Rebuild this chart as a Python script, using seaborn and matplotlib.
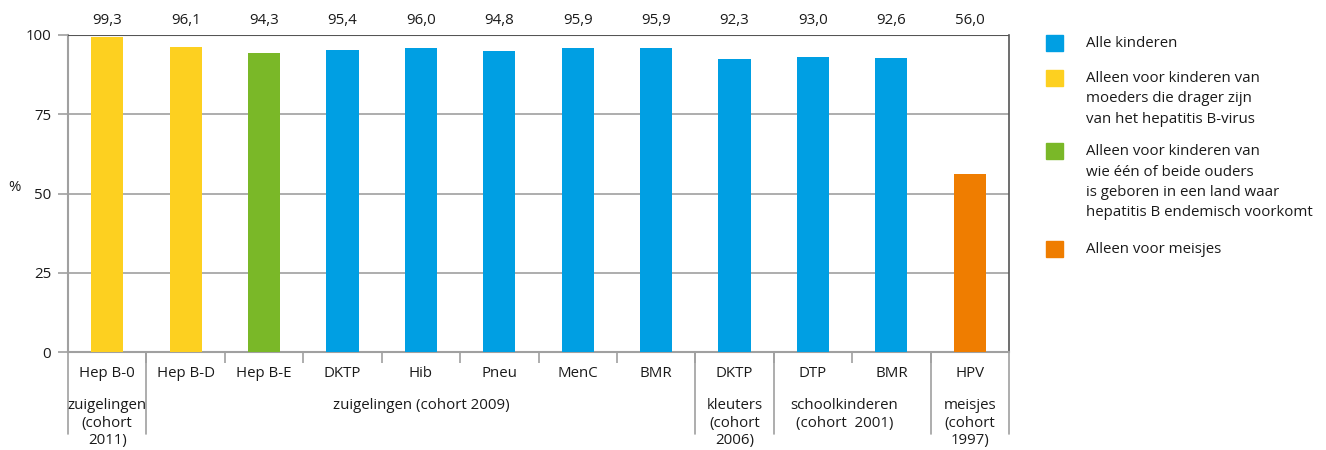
import matplotlib
matplotlib.use("Agg")

import matplotlib.pyplot as plt
import matplotlib.transforms as mtransforms
from matplotlib.patches import Rectangle
import seaborn as sns
import pandas as pd
import numpy as np

# Data
vaccines = ["Hep B-0", "Hep B-D", "Hep B-E", "DKTP", "Hib", "Pneu", "MenC",
            "BMR", "DKTP", "DTP", "BMR", "HPV"]
coverage = [99.3, 96.1, 94.3, 95.4, 96.0, 94.8, 95.9, 95.9, 92.3, 93.0, 92.6, 56.0]
target_group = ["dragers", "dragers", "endemisch", "alle", "alle", "alle", "alle",
                "alle", "alle", "alle", "alle", "meisjes"]

group_labels = ["zuigelingen\n(cohort\n2011)", "zuigelingen (cohort 2009)",
                "kleuters\n(cohort\n2006)", "schoolkinderen\n(cohort  2001)",
                "meisjes\n(cohort\n1997)"]
group_centers = [0, 4, 8, 9.4, 11]
group_edges = [-0.5, 0.5, 7.5, 8.5, 10.5, 11.5]

legend_keys = ["alle", "dragers", "endemisch", "meisjes"]
legend_labels = [
    "Alle kinderen",
    "Alleen voor kinderen van\nmoeders die drager zijn\nvan het hepatitis B-virus",
    "Alleen voor kinderen van\nwie één of beide ouders\nis geboren in een land waar\nhepatitis B endemisch voorkomt",
    "Alleen voor meisjes",
]
colors = {"alle": "#009fe3", "dragers": "#fdd020", "endemisch": "#7ab828",
          "meisjes": "#ef7d00"}

sns.set_theme(style="white")
plt.rcParams["font.family"] = ["Open Sans", "DejaVu Sans"]
FS = 10.8
text_color = "#1a1a1a"
grid_color = "#a0a0a0"
dark_line = "#555555"

df = pd.DataFrame({"pos": np.arange(len(vaccines)), "pct": coverage,
                   "groep": target_group})

fig = plt.figure(figsize=(13.26, 4.5), dpi=100)
ax = fig.add_axes([68 / 1326, 1 - 352 / 450, 941 / 1326, 317 / 450])

sns.barplot(data=df, x="pos", y="pct", hue="groep", palette=colors,
            dodge=False, legend=False, width=0.41, saturation=1,
            linewidth=0, ax=ax, zorder=3)

ax.set_xlim(-0.5, len(vaccines) - 0.5)
ax.set_ylim(0, 100)
ax.set_yticks([0, 25, 50, 75, 100])
ax.set_yticklabels(["0", "25", "50", "75", "100"])
ax.yaxis.grid(True, color=grid_color, linewidth=1.2, zorder=0)
ax.set_axisbelow(True)
ax.tick_params(axis="y", length=7, width=1.2, color=grid_color, pad=5,
               labelsize=FS, labelcolor=text_color, left=True)
ax.axhline(100, color=dark_line, linewidth=1.5, zorder=4)

ax.set_xticks(np.arange(len(vaccines)))
ax.set_xticklabels(vaccines)
ax.tick_params(axis="x", length=0, pad=10, labelsize=FS, labelcolor=text_color)
ax.set_xticks(np.arange(len(vaccines) - 1) + 0.5, minor=True)
ax.tick_params(axis="x", which="minor", length=8, width=1.2, color=grid_color,
               bottom=True)

for side in ["left", "bottom"]:
    ax.spines[side].set_color(grid_color)
    ax.spines[side].set_linewidth(1.5)
ax.spines["right"].set_color(dark_line)
ax.spines["right"].set_linewidth(1.2)
ax.spines["top"].set_visible(False)

ax.set_xlabel("")
ax.set_ylabel("")
ax.text(-0.0574, 0.52, "%", transform=ax.transAxes, ha="center", va="center",
        fontsize=FS, color=text_color)

trans = mtransforms.blended_transform_factory(ax.transData, ax.transAxes)

# value labels above the plot area
for i, v in enumerate(coverage):
    ax.text(i, 1.045, f"{v:.1f}".replace(".", ","), transform=trans,
            ha="center", va="center", fontsize=FS, color=text_color)

# long separators between the age groups
for e in group_edges:
    ax.plot([e, e], [0, -0.26], transform=trans, color=grid_color,
            linewidth=1.2, clip_on=False)

# age group labels
for c, lab in zip(group_centers, group_labels):
    ax.text(c, -0.145, lab, transform=trans, ha="center", va="top",
            fontsize=FS, color=text_color, linespacing=1.25)

# legend drawn by hand so the squares line up with the first text line
sq_w = 17 / 1326
sq_h = 16 / 450
entry_tops = [35, 70, 143, 241]
for key, lab, top in zip(legend_keys, legend_labels, entry_tops):
    fig.add_artist(Rectangle((1046 / 1326, 1 - (top + 16) / 450), sq_w, sq_h,
                             transform=fig.transFigure, color=colors[key]))
    fig.text(1086 / 1326, 1 - (top + 1) / 450, lab, ha="left", va="top",
             fontsize=FS, color=text_color, linespacing=1.5)

fig.savefig("out.png", dpi=100)
